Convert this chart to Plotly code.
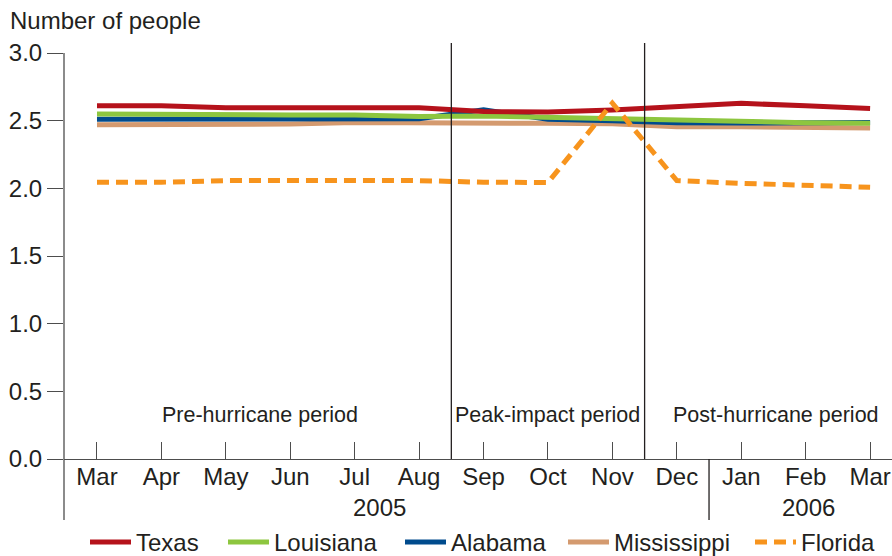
import plotly.graph_objects as go

months = ["Mar", "Apr", "May", "Jun", "Jul", "Aug", "Sep", "Oct", "Nov", "Dec", "Jan", "Feb", "Mar"]
x_idx = list(range(len(months)))

texas = [2.61, 2.61, 2.595, 2.595, 2.595, 2.595, 2.567, 2.564, 2.579, 2.603, 2.628, 2.61, 2.59]
louisiana = [2.55, 2.545, 2.542, 2.542, 2.542, 2.53, 2.535, 2.525, 2.517, 2.498, 2.488, 2.485, 2.48]
alabama = [2.51, 2.51, 2.51, 2.51, 2.512, 2.515, 2.58, 2.51, 2.50, 2.485, 2.482, 2.48, 2.487]
mississippi = [2.47, 2.47, 2.47, 2.475, 2.487, 2.487, 2.488, 2.48, 2.478, 2.455, 2.455, 2.45, 2.445]
florida = [2.045, 2.045, 2.057, 2.057, 2.057, 2.057, 2.045, 2.043, 2.63, 2.057, 2.037, 2.02, 2.008]

y_ticks = [0.0, 0.5, 1.0, 1.5, 2.0, 2.5, 3.0]
period_labels = ["Pre-hurricane period", "Peak-impact period", "Post-hurricane period"]
period_x = [2.53, 7.0, 10.54]
period_breaks = [5.5, 8.5]
year_labels = ["2005", "2006"]
year_x = [4.39, 11.04]
year_break = 9.5

FONT = "Liberation Sans, Arial, sans-serif"
TXT = "#231f20"
AX = "#4d4d4d"

W, H = 892, 556
ML, MT, MB = 64, 53, 97
PW = W - ML
PH = H - MT - MB

# name, values, color, dash, legend id, legend line start (px), draw order
series = [
    ("Texas", texas, "#b5121b", None, "legend", 90, 3),
    ("Louisiana", louisiana, "#8dc63f", None, "legend2", 228, 2),
    ("Alabama", alabama, "#004b8d", None, "legend3", 405, 1),
    ("Mississippi", mississippi, "#d49a6f", None, "legend4", 568, 0),
    ("Florida", florida, "#f7941d", "12px,7px", "legend5", 755, 4),
]

fig = go.Figure()
for name, vals, color, dash, leg, lx, order in sorted(series, key=lambda s: s[6]):
    fig.add_trace(go.Scatter(
        x=x_idx, y=vals, name=name, mode="lines", legend=leg,
        line=dict(color=color, width=5, dash=dash if dash else "solid"),
    ))

shapes = []
for b in period_breaks:
    shapes.append(dict(type="line", xref="x", yref="paper", x0=b, x1=b, y0=0, y1=1 + 10 / PH,
                       line=dict(color=TXT, width=1.3)))
shapes.append(dict(type="line", xref="x", yref="paper", x0=year_break, x1=year_break, y0=-61 / PH, y1=0,
                   line=dict(color=TXT, width=1.3)))
shapes.append(dict(type="line", xref="paper", yref="paper", x0=0, x1=0, y0=-61 / PH, y1=1,
                   line=dict(color=AX, width=1.3)))

annotations = [
    dict(text="Number of people", xref="paper", yref="paper", x=(8 - ML) / PW, y=(459 - 20) / PH,
         xanchor="left", yanchor="middle", showarrow=False, font=dict(size=24, color=TXT, family=FONT)),
]
for t, px in zip(period_labels, period_x):
    annotations.append(dict(text=t, xref="x", yref="y", x=px, y=0.325, xanchor="center", yanchor="middle",
                            showarrow=False, font=dict(size=21.5, color=TXT, family=FONT)))
for t, px in zip(year_labels, year_x):
    annotations.append(dict(text=t, xref="x", yref="paper", x=px, y=(459 - 507) / PH, xanchor="center",
                            yanchor="middle", showarrow=False, font=dict(size=24, color=TXT, family=FONT)))

layout = dict(
    width=W, height=H,
    margin=dict(l=ML, r=0, t=MT, b=MB),
    paper_bgcolor="white", plot_bgcolor="white",
    font=dict(family=FONT, size=24, color=TXT),
    showlegend=True,
    shapes=shapes,
    annotations=annotations,
    xaxis=dict(range=[-0.512, 12.34], tickvals=x_idx, ticktext=months, ticks="inside", ticklen=17,
               tickwidth=1.3, tickcolor=AX, showline=True, linecolor=AX, linewidth=1.3,
               showgrid=False, zeroline=False, ticklabelstandoff=-4,
               tickfont=dict(size=24, color=TXT, family=FONT)),
    yaxis=dict(range=[0, 3.0], tickvals=y_ticks, tickformat=".1f", ticks="outside", ticklen=16,
               tickwidth=1.3, tickcolor=AX, showline=False, showgrid=False, zeroline=False,
               tickfont=dict(size=24, color=TXT, family=FONT)),
)
for name, vals, color, dash, leg, lx, order in series:
    layout[leg] = dict(orientation="h", xref="container", yref="container",
                       x=(lx - 5) / W, xanchor="left",
                       y=1 - 542.5 / H, yanchor="middle",
                       font=dict(size=24, color=TXT, family=FONT), bgcolor="rgba(0,0,0,0)",
                       itemwidth=41)
fig.update_layout(**layout)

fig.write_html("out.html", config={"displayModeBar": False},
               post_script="document.body.style.margin='0';document.body.style.overflow='hidden';")
